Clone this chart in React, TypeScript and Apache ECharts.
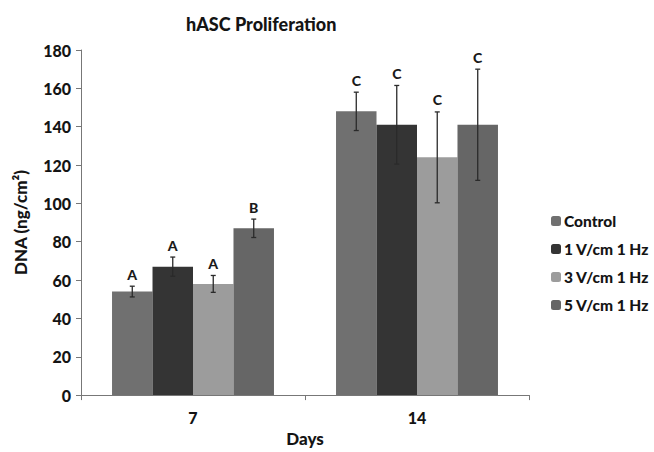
import React, { useEffect, useRef } from "react";
import * as echarts from "echarts";

const categories = ["7", "14"];
const seriesNames = ["Control", "1 V/cm 1 Hz", "3 V/cm 1 Hz", "5 V/cm 1 Hz"];
const seriesColors = ["#707070", "#343434", "#9c9c9c", "#666666"];
const values = [
  [54, 148],
  [67, 141],
  [58, 124],
  [87, 141],
];
const errors = [
  [2.8, 10],
  [5, 20.5],
  [4.4, 23.7],
  [4.8, 29],
];
const letters = [
  ["A", "C"],
  ["A", "C"],
  ["A", "C"],
  ["B", "C"],
];

const FONT = "Lato, 'Open Sans', sans-serif";
const GAP_PCT = 0.277;

export default function App() {
  const ref = useRef<HTMLDivElement>(null);
  useEffect(() => {
    if (!ref.current) return;
    const chart = echarts.init(ref.current, null, { renderer: "svg" });
    const nSeries = seriesNames.length;

    const barSeries = seriesNames.map((name, i) => ({
      name,
      type: "bar",
      data: values[i],
      barGap: "0%",
      barCategoryGap: GAP_PCT * 100 + "%",
      itemStyle: { color: seriesColors[i] },
      z: 2,
    }));

    const errSeries = seriesNames.map((name, i) => ({
      type: "custom",
      name: name + " err",
      z: 5,
      data: values[i].map((v, c) => [c, v, errors[i][c]]),
      renderItem: (params: any, api: any) => {
        const c = api.value(0);
        const v = api.value(1);
        const e = api.value(2);
        const letter = letters[i][c];
        const center = api.coord([c, v]);
        const band = api.size([1, 0])[0];
        const bw = (band * (1 - GAP_PCT)) / nSeries;
        const x = center[0] + (i - (nSeries - 1) / 2) * bw;
        const top = api.coord([c, v + e])[1];
        const bot = api.coord([c, v - e])[1];
        const st = { stroke: "#2a2a2a", lineWidth: 1.3 };
        return {
          type: "group",
          children: [
            { type: "line", shape: { x1: x, y1: top, x2: x, y2: bot }, style: st },
            { type: "line", shape: { x1: x - 2.5, y1: top, x2: x + 2.5, y2: top }, style: st },
            { type: "line", shape: { x1: x - 2.5, y1: bot, x2: x + 2.5, y2: bot }, style: st },
            {
              type: "text",
              x: x,
              y: top - 5,
              style: {
                text: letter,
                fill: "#1a1a1a",
                font: "900 14px " + FONT,
                align: "center",
                verticalAlign: "bottom",
              },
            },
          ],
        };
      },
    }));

    const bold = { fontFamily: FONT, fontWeight: 900, color: "#141414" };

    chart.setOption({
      animation: false,
      backgroundColor: "#ffffff",
      title: {
        text: "hASC Proliferation",
        left: 181,
        top: 10,
        textStyle: { ...bold, fontSize: 18 },
      },
      legend: {
        orient: "vertical",
        left: 546,
        top: 208,
        itemWidth: 10,
        itemHeight: 10,
        itemGap: 12,
        data: seriesNames.map((n, i) => ({ name: n, itemStyle: { color: seriesColors[i] } })),
        textStyle: { ...bold, fontSize: 15.5, padding: [0, 0, 0, -2] },
      },
      grid: { left: 81, top: 50, width: 448, height: 353, containLabel: false },
      xAxis: {
        type: "category",
        data: categories,
        name: "Days",
        nameLocation: "middle",
        nameGap: 32,
        nameTextStyle: { ...bold, fontSize: 17 },
        axisLine: { lineStyle: { color: "#777", width: 1 } },
        axisTick: { show: true, length: 5, lineStyle: { color: "#777" } },
        axisLabel: { ...bold, fontSize: 16, margin: 14 },
      },
      yAxis: {
        type: "value",
        min: 0,
        max: 180,
        interval: 20,
        name: "DNA (ng/cm²)",
        nameLocation: "middle",
        nameGap: 52,
        nameRotate: 90,
        nameTextStyle: { ...bold, fontSize: 17 },
        axisLine: { show: true, lineStyle: { color: "#777", width: 1 } },
        axisTick: { show: true, length: 5, lineStyle: { color: "#777" } },
        splitLine: { show: false },
        axisLabel: { ...bold, fontSize: 16, margin: 10 },
      },
      series: [...barSeries, ...errSeries],
    });
    return () => chart.dispose();
  }, []);
  return <div ref={ref} style={{ width: 654, height: 452, position: "absolute", left: 0, top: 0 }} />;
}
